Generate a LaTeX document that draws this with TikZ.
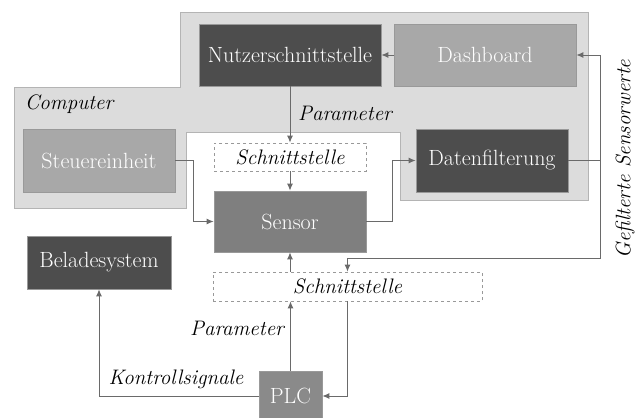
\documentclass[tikz,border=0pt]{standalone}
\usetikzlibrary{arrows.meta}
\usetikzlibrary{calc}
\usepackage{xcolor}

\definecolor{darkbox}{HTML}{4D4D4D}
\definecolor{midbox}{HTML}{7F7F7F}
\definecolor{lightbox}{HTML}{A8A8A8}
\definecolor{plcbox}{HTML}{8A8A8A}
\definecolor{pcfill}{HTML}{DCDCDC}
\definecolor{pcline}{HTML}{B4B4B4}
\definecolor{wire}{HTML}{6A6A6A}

\begin{document}
\begin{tikzpicture}[x=1pt,y=-1pt,->,>={Latex[length=7pt,width=6pt]},
  line width=0.9pt,draw=wire,
  block/.style={rectangle,draw=gray!80,line width=0.8pt,text=white,
    font=\fontsize{22}{25}\selectfont,inner sep=0pt},
  port/.style={rectangle,draw=gray!80,dashed,line width=0.8pt,fill=white,
    font=\fontsize{21}{24}\selectfont\itshape,inner sep=0pt},
  lbl/.style={font=\fontsize{21}{24}\selectfont\itshape}]

  \useasboundingbox (0,0) rectangle (638,418);

  % computer area
  \draw[-,fill=pcfill,draw=pcline,line width=0.9pt]
    (180,12) -- (588,12) -- (588,200) -- (400,200) -- (400,132) -- (186,132)
    -- (186,208) -- (14,208) -- (14,87) -- (180,87) -- cycle;
  \node[lbl] (PC) at (69,104) {Computer};

  \node[block,fill=darkbox,minimum width=182,minimum height=62] (NS) at (290,55) {Nutzerschnittstelle};
  \node[block,fill=lightbox,minimum width=182,minimum height=62] (DB) at (485,55) {Dashboard};
  \node[block,fill=lightbox,minimum width=152,minimum height=63] (SE) at (99,160.5) {Steuereinheit};
  \node[block,fill=darkbox,minimum width=152,minimum height=63] (DF) at (492,160.5) {Datenfilterung};
  \node[port,minimum width=152,minimum height=28] (IF1) at (290,157) {Schnittstelle};
  \node[block,fill=midbox,minimum width=152,minimum height=61] (S) at (290,221.5) {Sensor};
  \node[block,fill=darkbox,minimum width=144,minimum height=53] (BS) at (99,262.5) {Beladesystem};
  \node[port,minimum width=269,minimum height=29] (IF2) at (347.5,286.5) {Schnittstelle};
  \node[block,fill=plcbox,minimum width=63,minimum height=50] (PLC) at (290.5,396) {PLC};

  \coordinate (R) at (600,160.5);
  \coordinate (RL) at (600,258);

  \path (NS) edge (IF1)
    (IF1) edge (S)
    (DB) edge (NS)
    ;
  \node[lbl] (P1) at (345,113) {Parameter};

  \draw (DF) -- (R) |- (DB);
  \draw (R) -- (RL) -| (IF2.north);
  \node[lbl,rotate=90] (GS) at (625,159) {Gefilterte Sensorwerte};

  \draw (S.east) -- ++(26,0) |- (DF.west);
  \draw (SE.east) -- ++(18,0) |- (S.west);
  \draw (IF2.north -| S) -- (S.south);

  \draw (PLC.north) -- (PLC.north |- IF2.south);
  \node[lbl] (P2) at (237,328) {Parameter};
  \draw (PLC.west) -| (BS.south);
  \node[lbl] (KS) at (176,379) {Kontrollsignale};
  \draw (IF2.south) |- (PLC.east);
\end{tikzpicture}
\end{document}
